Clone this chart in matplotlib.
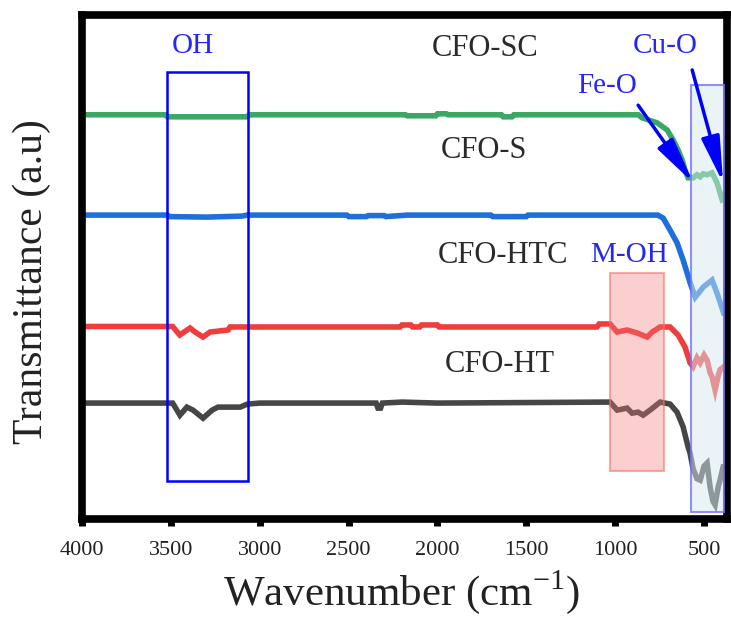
import matplotlib
matplotlib.use("Agg")
import matplotlib.pyplot as plt
from matplotlib.patches import Rectangle

plt.rcParams['font.family'] = ['Liberation Serif', 'DejaVu Serif']
plt.rcParams['mathtext.fontset'] = 'custom'
plt.rcParams['mathtext.rm'] = 'Liberation Serif'

# FTIR spectra (wavenumber in cm^-1, transmittance in arbitrary offset units)
wn_sc = [4000, 3530, 3520, 3070, 3060, 2180, 2170, 2010, 2000, 1950, 1940, 1640, 1630, 1580,
         1570, 870, 849, 764, 708, 674, 646, 623, 607, 590, 561, 540, 522, 505, 483, 455, 427, 398]
t_sc = [80.2, 80.2, 79.8, 79.8, 80.2, 80.2, 80.0, 80.0, 80.4, 80.4, 80.2, 80.2, 79.8, 79.8,
        80.2, 80.2, 79.6, 78.6, 77.2, 75.2, 73.2, 71.2, 69.2, 67.7, 67.7, 68.3, 67.9, 68.5, 68.3,
        68.7, 66.7, 63.3]

wn_s = [4000, 3520, 3510, 3300, 3100, 3070, 2510, 2500, 2400, 2390, 2300, 2290, 2170, 1700,
        1690, 1500, 1490, 760, 730, 691, 652, 618, 578, 550, 505, 455, 427, 390]
t_s = [60.3, 60.3, 60.0, 59.9, 60.1, 60.3, 60.3, 60.0, 60.0, 60.2, 60.2, 60.0, 60.3, 60.3,
       60.0, 60.0, 60.3, 60.3, 59.7, 57.3, 54.8, 51.4, 46.8, 44.0, 46.0, 47.4, 44.8, 40.9]

wn_htc = [4000, 3490, 3450, 3392, 3364, 3319, 3280, 3178, 3167, 2210, 2200, 2150, 2140, 2100,
          2090, 2000, 1990, 1920, 1102, 1090, 1029, 989, 933, 877, 820, 792, 747, 691, 646, 607,
          579, 562, 540, 522, 500, 483, 466, 455, 438, 420, 410, 390]
t_htc = [38.2, 38.2, 36.5, 37.9, 37.1, 36.1, 37.1, 37.5, 38.1, 38.1, 38.5, 38.5, 38.1, 38.1,
         38.5, 38.5, 38.1, 38.1, 38.1, 38.7, 38.7, 37.1, 37.5, 36.9, 36.1, 37.1, 38.1, 38.1, 36.5,
         34.1, 31.0, 30.2, 32.0, 31.0, 32.5, 31.5, 29.0, 28.2, 25.6, 28.5, 29.6, 30.2]

wn_ht = [4000, 3490, 3449, 3410, 3375, 3319, 3268, 3235, 3110, 3070, 3000, 2345, 2335, 2320,
         2310, 2200, 2000, 1029, 989, 933, 905, 871, 843, 804, 747, 691, 652, 618, 590, 579, 562,
         540, 522, 500, 483, 466, 450, 438, 420, 410, 393]
t_ht = [23.0, 23.0, 20.6, 22.2, 21.6, 20.0, 21.6, 22.2, 22.2, 22.8, 23.0, 23.0, 22.0, 22.0,
        23.0, 23.2, 23.0, 23.2, 21.6, 22.0, 21.0, 21.2, 20.6, 21.6, 23.2, 22.8, 21.2, 18.3, 14.3,
        13.1, 10.0, 8.0, 7.7, 10.5, 11.1, 6.3, 3.5, 2.8, 6.5, 7.7, 10.3]

series = [
    ("CFO-SC", wn_sc, t_sc, "#3aa864"),
    ("CFO-S", wn_s, t_s, "#1e6fd9"),
    ("CFO-HTC", wn_htc, t_htc, "#f03c3c"),
    ("CFO-HT", wn_ht, t_ht, "#464646"),
]

# band regions: (x0, x1, y0, y1)
oh_band = (3066, 3522, 7.5, 88.7)
moh_band = (725, 1029, 9.5, 48.8)
mo_band = (387, 573, 1.4, 86.1)

xticks = [4000, 3500, 3000, 2500, 2000, 1500, 1000, 500]

fig = plt.figure(figsize=(7.31, 6.19), dpi=100)
ax = fig.add_axes([82 / 731, 1 - 519 / 619, (727 - 82) / 731, (519 - 15) / 619])

for name, x, y, c in series:
    ax.plot(x, y, color=c, lw=4.0, solid_joinstyle='miter', zorder=2)

# OH band outline
ax.add_patch(Rectangle((oh_band[0], oh_band[2]), oh_band[1] - oh_band[0], oh_band[3] - oh_band[2],
                       fill=False, edgecolor='#0000ff', lw=1.8, zorder=3))
# M-OH band
ax.add_patch(Rectangle((moh_band[0], moh_band[2]), moh_band[1] - moh_band[0], moh_band[3] - moh_band[2],
                       facecolor=(0.96, 0.47, 0.47, 0.35), edgecolor=(0.95, 0.45, 0.45, 0.6),
                       lw=1.5, zorder=3))
# metal-oxygen band
ax.add_patch(Rectangle((mo_band[0], mo_band[2]), mo_band[1] - mo_band[0], mo_band[3] - mo_band[2],
                       facecolor=(0.84, 0.92, 0.94, 0.5), edgecolor=(0.45, 0.45, 1.0, 0.8),
                       lw=1.5, zorder=3))

label_pos = {"CFO-SC": (485, 48), "CFO-S": (484, 150), "CFO-HTC": (503, 255), "CFO-HT": (500, 365)}
for name, x, y, c in series:
    px, py = label_pos[name]
    fig.text(px / 731, 1 - py / 619, name, fontsize=22, color='#2a2a2a', ha='center', va='center')

blue_txt = '#2626f5'
for txt, (px, py) in [("OH", (193, 46)), ("Cu-O", (665, 46)), ("Fe-O", (607, 86)), ("M-OH", (629, 255))]:
    fig.text(px / 731, 1 - py / 619, txt, fontsize=21, color=blue_txt, ha='center', va='center')

arrow = dict(arrowstyle='-|>,head_length=1.4,head_width=0.28', color='#0000ff', lw=2.5,
             mutation_scale=20, shrinkA=0, shrinkB=0)
ax.annotate('', xy=(561, 66.7), xytext=(871, 82.1), arrowprops=arrow, zorder=5)
ax.annotate('', xy=(393, 66.7), xytext=(567, 89.1), arrowprops=arrow, zorder=5)

ax.set_xlim(4000, 371)
ax.set_ylim(0, 100)
ax.set_xticks(xticks)
ax.set_xticklabels([str(t) for t in xticks])
ax.set_yticks([])
ax.tick_params(axis='x', direction='out', length=5, width=5, labelsize=16, pad=11,
               labelcolor='#222222', color='black')
for s in ax.spines.values():
    s.set_linewidth(5.5)
    s.set_color('black')

fig.text(32 / 731, 1 - 282 / 619, "Transmittance (a.u)", rotation=90, fontsize=30,
         ha='center', va='center', color='#222222')
fig.text(402 / 731, 1 - 592 / 619, r"Wavenumber (cm$^{\mathrm{-1}}$)", fontsize=31,
         ha='center', va='center', color='#222222')

fig.savefig("out.png", dpi=100)
